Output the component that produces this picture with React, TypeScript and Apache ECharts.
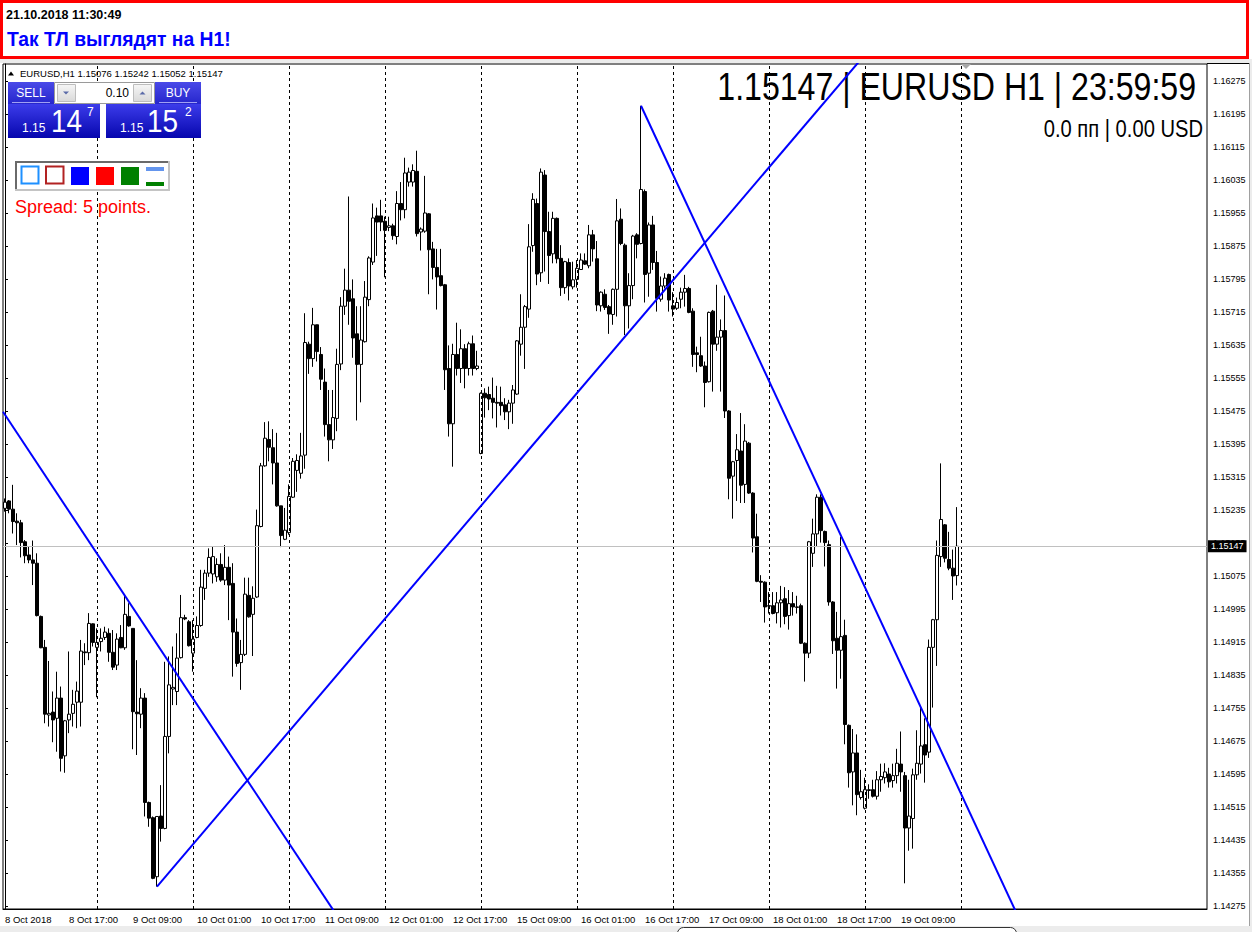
import React, { useEffect, useRef } from 'react';
import * as echarts from 'echarts';

const FONT = '"Liberation Sans", Arial, sans-serif';

// ---- texts ----
const symbolName = 'EURUSD,H1';
const headerTime = '21.10.2018 11:30:49';
const headerTitle = 'Так ТЛ выглядят на H1!';
const infoBig = '1.15147 | EURUSD H1 | 23:59:59';
const infoSmall = '0.0 пп | 0.00 USD';
const spreadText = 'Spread: 5 points.';
const lotText = '0.10';
const sellQuote = ['1.15', '14', '7'];
const buyQuote = ['1.15', '15', '2'];

// ---- time axis ----
const dayNames = ['8 Oct', '9 Oct', '10 Oct', '11 Oct', '12 Oct', '15 Oct', '16 Oct', '17 Oct', '18 Oct', '19 Oct'];
const firstLabel = '8 Oct 2018';
const firstDayStartHour = 1;
const labelStep = 16;
const emptySlots = 62;

// ---- price axis ----
const yMin = 1.142677;
const yMax = 1.163162;
const yTicks = [
  1.14275, 1.14355, 1.14435, 1.14515, 1.14595, 1.14675, 1.14755, 1.14835, 1.14915, 1.14995,
  1.15075, 1.15155, 1.15235, 1.15315, 1.15395, 1.15475, 1.15555, 1.15635, 1.15715, 1.15795,
  1.15875, 1.15955, 1.16035, 1.16115, 1.16195, 1.16275,
];

// ---- H1 candles per day: [open, high, low, close] ----
const oct08 = [
  [1.15239, 1.15263, 1.15231, 1.15254], [1.15257, 1.15259, 1.15227, 1.15237], [1.15237, 1.15296, 1.15178, 1.15207],
  [1.15208, 1.15227, 1.1515, 1.15204], [1.15204, 1.15211, 1.1512, 1.15156], [1.15158, 1.15162, 1.15106, 1.15124],
  [1.15126, 1.15146, 1.15106, 1.15114], [1.15114, 1.15161, 1.15053, 1.15106], [1.15106, 1.1513, 1.14977, 1.14979],
  [1.14977, 1.14979, 1.149, 1.14901], [1.14902, 1.1492, 1.14718, 1.1474], [1.14738, 1.14869, 1.1471, 1.14742],
  [1.14745, 1.14795, 1.14672, 1.14726], [1.1473, 1.14843, 1.14649, 1.14779], [1.14779, 1.14807, 1.14601, 1.14633],
  [1.14639, 1.14726, 1.14598, 1.14724], [1.14726, 1.14892, 1.14694, 1.1474], [1.14742, 1.14799, 1.1471, 1.14764],
  [1.14769, 1.14819, 1.14706, 1.14796], [1.14769, 1.1492, 1.1471, 1.14893], [1.14891, 1.14912, 1.14859, 1.14889],
  [1.14889, 1.14985, 1.14871, 1.1496], [1.14959, 1.1496, 1.14904, 1.14914],
];
const oct09 = [
  [1.14902, 1.14948, 1.14781, 1.14914], [1.14916, 1.14948, 1.14892, 1.14924], [1.14926, 1.14952, 1.1492, 1.14939],
  [1.14936, 1.14948, 1.14867, 1.1489], [1.1489, 1.14944, 1.14847, 1.14854], [1.14859, 1.14936, 1.14847, 1.14922],
  [1.14926, 1.14956, 1.149, 1.14901], [1.14901, 1.15029, 1.14896, 1.14982], [1.14977, 1.15009, 1.14952, 1.14954],
  [1.14948, 1.14948, 1.14655, 1.14746], [1.14745, 1.14871, 1.14641, 1.14741], [1.1474, 1.14803, 1.14706, 1.14779],
  [1.14779, 1.14791, 1.14492, 1.14526], [1.14526, 1.14528, 1.14467, 1.14488], [1.14489, 1.14492, 1.1434, 1.14342],
  [1.14346, 1.14492, 1.14322, 1.14492], [1.14493, 1.14568, 1.14431, 1.14463], [1.14463, 1.14867, 1.14461, 1.14686],
  [1.14686, 1.1488, 1.14645, 1.14811], [1.14801, 1.14904, 1.14762, 1.14805], [1.14795, 1.14936, 1.14762, 1.14876],
  [1.14877, 1.15029, 1.14875, 1.14974], [1.14974, 1.14981, 1.14968, 1.14971], [1.14964, 1.14968, 1.14904, 1.14906],
];
const oct10 = [
  [1.14888, 1.14968, 1.14843, 1.14922], [1.14926, 1.14977, 1.14924, 1.14955], [1.14955, 1.1509, 1.14952, 1.15048],
  [1.15045, 1.1509, 1.15017, 1.15082], [1.15082, 1.15142, 1.15073, 1.1512], [1.1508, 1.15146, 1.15057, 1.15122],
  [1.15073, 1.15118, 1.15061, 1.15103], [1.15103, 1.1513, 1.15061, 1.15065], [1.15065, 1.1515, 1.15053, 1.15096],
  [1.15096, 1.15122, 1.14968, 1.15053], [1.15057, 1.15106, 1.14831, 1.14939], [1.14939, 1.14972, 1.14855, 1.14863],
  [1.14865, 1.1492, 1.14799, 1.14885], [1.14885, 1.15071, 1.14881, 1.15031], [1.15028, 1.15071, 1.14974, 1.14976],
  [1.14982, 1.1505, 1.14881, 1.15021], [1.15024, 1.15236, 1.15022, 1.15197], [1.15195, 1.15349, 1.15193, 1.15342],
  [1.15342, 1.15448, 1.1534, 1.15409], [1.15406, 1.1545, 1.15353, 1.15387], [1.15386, 1.15431, 1.15297, 1.15349],
  [1.15349, 1.15422, 1.15243, 1.15245], [1.15245, 1.15245, 1.15145, 1.15173], [1.15164, 1.1524, 1.15162, 1.15186],
];
const oct11 = [
  [1.1518, 1.15297, 1.15175, 1.15268], [1.15266, 1.15361, 1.15264, 1.15353], [1.15331, 1.1537, 1.15279, 1.15355],
  [1.15324, 1.15422, 1.15311, 1.15366], [1.15368, 1.15712, 1.15335, 1.15641], [1.15637, 1.15643, 1.15565, 1.15602],
  [1.15602, 1.15725, 1.15582, 1.15684], [1.15684, 1.15684, 1.15595, 1.15619], [1.15612, 1.1563, 1.15526, 1.15552],
  [1.15545, 1.15578, 1.15413, 1.15442], [1.15442, 1.15526, 1.15353, 1.15405], [1.15405, 1.15526, 1.15383, 1.15459],
  [1.15457, 1.15626, 1.15426, 1.15588], [1.15589, 1.15751, 1.15574, 1.15729], [1.15729, 1.1582, 1.15708, 1.15768],
  [1.15768, 1.15995, 1.15684, 1.15741], [1.15747, 1.15794, 1.15604, 1.15652], [1.15662, 1.15729, 1.15452, 1.15588],
  [1.15588, 1.15729, 1.15496, 1.15647], [1.15643, 1.1579, 1.15641, 1.15751], [1.15745, 1.1585, 1.15729, 1.15846],
  [1.15836, 1.15978, 1.15829, 1.15943], [1.15948, 1.15968, 1.15851, 1.15933], [1.15948, 1.15987, 1.15911, 1.15933],
];
const oct12 = [
  [1.15935, 1.15946, 1.15799, 1.15913], [1.1592, 1.15946, 1.15911, 1.15924], [1.15924, 1.15929, 1.1589, 1.159],
  [1.15898, 1.16008, 1.15879, 1.15978], [1.15978, 1.1603, 1.15937, 1.15963], [1.15963, 1.16089, 1.15942, 1.16052],
  [1.1603, 1.16065, 1.16019, 1.16054], [1.1603, 1.16073, 1.16019, 1.16058], [1.16056, 1.16106, 1.15898, 1.15905],
  [1.15909, 1.1592, 1.15864, 1.15916], [1.15911, 1.16045, 1.15907, 1.15955], [1.15953, 1.15955, 1.15758, 1.15866],
  [1.15868, 1.15885, 1.15794, 1.15823], [1.15823, 1.15868, 1.15721, 1.158], [1.15803, 1.15868, 1.15777, 1.15779],
  [1.15781, 1.15783, 1.15526, 1.15575], [1.15578, 1.15634, 1.15413, 1.15444], [1.15444, 1.15638, 1.1534, 1.15612],
  [1.15612, 1.15689, 1.15561, 1.15578], [1.15578, 1.15673, 1.15543, 1.15626], [1.15626, 1.15637, 1.1553, 1.15578],
  [1.15578, 1.15643, 1.15561, 1.15638], [1.15638, 1.15658, 1.15561, 1.15578], [1.15578, 1.15621, 1.15574, 1.15584],
];
const oct15 = [
  [1.15372, 1.1552, 1.1537, 1.15518], [1.15518, 1.1553, 1.15459, 1.15507], [1.15515, 1.15534, 1.15477, 1.15504],
  [1.15506, 1.15556, 1.15457, 1.15496], [1.15496, 1.15536, 1.15435, 1.15494], [1.15496, 1.15534, 1.15464, 1.15488],
  [1.1549, 1.15506, 1.15453, 1.15473], [1.15473, 1.15502, 1.15431, 1.15494], [1.15494, 1.15538, 1.15444, 1.15526],
  [1.15516, 1.15647, 1.15514, 1.15645], [1.15637, 1.15758, 1.15609, 1.15678], [1.15678, 1.15732, 1.15577, 1.15728],
  [1.15722, 1.15928, 1.15701, 1.15873], [1.15876, 1.16003, 1.15861, 1.15988], [1.15978, 1.1599, 1.1578, 1.15807],
  [1.1581, 1.16063, 1.15788, 1.16054], [1.16047, 1.16059, 1.15813, 1.1591], [1.1591, 1.15958, 1.15783, 1.15852],
  [1.15856, 1.15958, 1.15833, 1.15942], [1.15942, 1.15944, 1.15833, 1.15844], [1.15845, 1.15877, 1.15754, 1.15774],
  [1.15774, 1.15839, 1.15759, 1.15837], [1.15835, 1.15845, 1.15743, 1.15778], [1.15776, 1.15837, 1.1577, 1.15793],
];
const oct16 = [
  [1.15794, 1.15841, 1.15774, 1.15821], [1.15818, 1.15857, 1.15817, 1.15841], [1.15839, 1.15857, 1.15829, 1.15831],
  [1.15827, 1.15926, 1.15821, 1.15902], [1.15902, 1.15914, 1.15837, 1.15868], [1.15844, 1.15887, 1.15717, 1.15732],
  [1.1573, 1.15765, 1.15716, 1.15763], [1.15758, 1.1577, 1.1572, 1.15726], [1.15728, 1.15732, 1.15662, 1.1571],
  [1.15709, 1.15772, 1.15684, 1.1577], [1.1577, 1.15989, 1.15704, 1.15936], [1.1594, 1.15966, 1.15877, 1.15881],
  [1.15877, 1.15881, 1.15659, 1.1573], [1.1573, 1.15809, 1.15675, 1.15779], [1.15779, 1.15902, 1.15746, 1.15899],
  [1.15902, 1.15906, 1.15845, 1.15879], [1.15881, 1.16215, 1.15879, 1.16012], [1.16007, 1.16012, 1.15738, 1.15806],
  [1.15809, 1.15932, 1.15752, 1.15926], [1.15926, 1.15948, 1.15817, 1.15835], [1.15835, 1.15863, 1.15716, 1.15748],
  [1.15746, 1.15801, 1.1574, 1.15778], [1.15778, 1.15809, 1.15772, 1.15797], [1.15806, 1.15808, 1.15716, 1.15744],
];
const oct17 = [
  [1.1573, 1.15763, 1.15704, 1.15722], [1.15724, 1.1575, 1.1572, 1.15738], [1.15746, 1.15774, 1.15724, 1.15763],
  [1.15763, 1.15805, 1.15728, 1.15772], [1.15772, 1.15776, 1.15712, 1.15714], [1.15717, 1.15724, 1.15582, 1.15612],
  [1.15616, 1.15631, 1.15569, 1.15612], [1.15609, 1.15655, 1.15582, 1.15584], [1.15584, 1.15595, 1.15484, 1.15544],
  [1.15546, 1.15716, 1.15544, 1.15714], [1.15717, 1.1572, 1.15522, 1.15637], [1.15637, 1.15781, 1.15621, 1.15654],
  [1.15654, 1.15697, 1.15522, 1.1567], [1.1567, 1.15755, 1.15458, 1.15475], [1.15475, 1.15477, 1.15261, 1.15312],
  [1.15317, 1.15354, 1.15214, 1.15352], [1.15355, 1.15419, 1.15257, 1.15381], [1.15378, 1.1547, 1.15252, 1.15295],
  [1.15297, 1.15443, 1.15252, 1.15402], [1.15397, 1.154, 1.15274, 1.15276], [1.15276, 1.15278, 1.15132, 1.15167],
  [1.1517, 1.15226, 1.1506, 1.15062], [1.15062, 1.15077, 1.15012, 1.1506], [1.1506, 1.15062, 1.14962, 1.15],
];
const oct18 = [
  [1.15003, 1.15036, 1.14984, 1.15002], [1.15003, 1.15036, 1.14982, 1.14984], [1.14986, 1.15036, 1.1496, 1.1501],
  [1.1501, 1.15051, 1.1495, 1.15017], [1.1502, 1.15048, 1.14958, 1.14977], [1.14979, 1.15041, 1.14945, 1.15008],
  [1.15008, 1.15036, 1.14979, 1.15], [1.15, 1.15027, 1.14984, 1.14999], [1.15003, 1.15008, 1.1491, 1.14912],
  [1.14912, 1.14914, 1.14819, 1.14888], [1.14888, 1.1516, 1.14876, 1.15158], [1.1513, 1.15214, 1.15097, 1.15177],
  [1.15177, 1.15273, 1.15146, 1.15266], [1.15266, 1.15273, 1.15156, 1.15185], [1.15183, 1.15185, 1.15098, 1.15156],
  [1.15151, 1.15161, 1.15003, 1.15012], [1.15012, 1.15014, 1.14886, 1.14918], [1.14924, 1.14988, 1.14802, 1.14895],
  [1.14895, 1.1517, 1.14826, 1.14928], [1.14931, 1.14969, 1.14667, 1.14715], [1.14713, 1.14715, 1.14562, 1.14598],
  [1.146, 1.14704, 1.14519, 1.14646], [1.14646, 1.14691, 1.14495, 1.14545], [1.14538, 1.14605, 1.14533, 1.14552],
];
const oct19 = [
  [1.14512, 1.14586, 1.14509, 1.14557], [1.14555, 1.1457, 1.14535, 1.14557], [1.14557, 1.14581, 1.14538, 1.14541],
  [1.14541, 1.14602, 1.14533, 1.14581], [1.14581, 1.1462, 1.14552, 1.14589], [1.14586, 1.14621, 1.14572, 1.146],
  [1.14595, 1.1461, 1.14562, 1.14576], [1.14579, 1.1462, 1.14562, 1.14591], [1.14591, 1.14656, 1.14572, 1.14621],
  [1.14619, 1.14698, 1.14552, 1.146], [1.14591, 1.146, 1.1433, 1.14464], [1.14464, 1.14581, 1.14409, 1.14493],
  [1.14487, 1.14608, 1.14414, 1.14593], [1.14593, 1.14701, 1.14581, 1.14621], [1.14619, 1.14758, 1.14596, 1.14663],
  [1.14666, 1.1473, 1.14574, 1.14641], [1.14648, 1.14921, 1.14634, 1.14902], [1.14902, 1.14971, 1.14756, 1.14969],
  [1.14969, 1.15161, 1.14857, 1.15125], [1.15122, 1.15348, 1.15097, 1.15212], [1.15199, 1.15201, 1.15108, 1.15118],
  [1.15115, 1.15182, 1.15089, 1.15094], [1.15094, 1.15139, 1.15017, 1.15075], [1.15076, 1.15242, 1.15052, 1.15147],
];

// ---- trend lines: [bar index, price] anchors (rays, clipped to the plot) ----
const trendLineA = [[-0.5, 1.15473], [90, 1.14149]];
const trendLineB = [[38, 1.14322], [220, 1.16396]];
const trendLineC = [[159, 1.16215], [265, 1.14005]];

// ---- derived ----
const dayBars = [oct08, oct09, oct10, oct11, oct12, oct15, oct16, oct17, oct18, oct19];
const bars = dayBars.flat();
const times: string[] = [];
dayNames.forEach((d, i) => {
  const start = i === 0 ? firstDayStartHour : 0;
  for (let h = start; h < 24; h++) times.push(`${d} ${String(h).padStart(2, '0')}:00`);
});
const categories = [...times, ...Array(emptySlots).fill('')];
const candleData = bars.map(([o, h, l, c]) => [o, c, l, h]);
const separators = times
  .map((t, i) => (t.endsWith(' 00:00') ? i : -1))
  .filter((i) => i >= 0)
  .concat([times.length]);
const lastBar = bars[bars.length - 1];
const lastClose = lastBar[3];
const ohlcLine = `${symbolName} ${lastBar.map((v) => v.toFixed(5)).join(' ')}`;

function txt(x: number, y: number, text: string, size: number, color: string, o: any = {}) {
  const align = o.align || 'left';
  return {
    type: 'text',
    x,
    y,
    z: o.z ?? 60,
    silent: true,
    scaleX: o.scaleX ?? 1,
    style: {
      text,
      fill: color,
      font: `${o.weight || 'normal'} ${size}px ${FONT}`,
      textAlign: align,
      textVerticalAlign: 'middle',
      align,
      verticalAlign: 'middle',
    },
  };
}
function rect(x: number, y: number, w: number, h: number, style: any, z = 50, r = 0) {
  return { type: 'rect', z, silent: true, shape: { x, y, width: w, height: h, r }, style };
}
function line(x1: number, y1: number, x2: number, y2: number, stroke: string, lw = 1, z = 50) {
  return { type: 'line', z, silent: true, shape: { x1, y1, x2, y2 }, style: { stroke, lineWidth: lw } };
}

function buildOption() {
  const grad = (a: string, b: string) =>
    new echarts.graphic.LinearGradient(0, 0, 0, 1, [
      { offset: 0, color: a },
      { offset: 1, color: b },
    ]);
  const tabFill = grad('#4a4ae8', '#2626cc');
  const lowFill = grad('#3c3cea', '#0606ae');
  const btnFill = grad('#f6f6f6', '#d9d9d9');

  const graphic: any[] = [
    // header
    rect(0, 0, 1252, 60, { fill: '#fff' }, 40),
    rect(1.5, 1.5, 1246, 56, { fill: 'none', stroke: '#ff0000', lineWidth: 3 }, 41),
    txt(6, 15, headerTime, 12.5, '#000', { weight: 'bold' }),
    txt(7, 39, headerTitle, 19.3, '#0000ff', { weight: 'bold' }),
    rect(0, 59, 1252, 4, { fill: '#ececec' }, 40),
    line(1207, 63.5, 1249, 63.5, '#000', 1, 40),
    rect(1249, 59, 3, 873, { fill: '#ececec' }, 40),
    line(1249.5, 63, 1249.5, 926, '#a0a0a0', 1, 40),
    rect(0, 926, 1252, 6, { fill: '#ececec' }, 40),
    rect(677.5, 927.5, 339, 20, { fill: '#fff', stroke: '#333', lineWidth: 1 }, 41, 6),
    // chart-shift marker
    { type: 'polygon', z: 40, silent: true, shape: { points: [[961, 64], [971, 64], [966, 69]] }, style: { fill: '#a8a8a8' } },
    // OHLC line
    { type: 'polygon', z: 60, silent: true, shape: { points: [[8, 75.5], [14, 75.5], [11, 71.5]] }, style: { fill: '#000' } },
    txt(20, 73, ohlcLine, 9.5, '#000'),
    // big info (below series)
    txt(1196, 86, infoBig, 38, '#000', { align: 'right', scaleX: 0.845, z: 1 }),
    txt(1203, 129, infoSmall, 24, '#000', { align: 'right', scaleX: 0.84, z: 1 }),
    // SELL
    rect(8, 82, 46, 22, { fill: tabFill }),
    line(12, 102.5, 50, 102.5, '#a0a0f4', 1, 51),
    txt(31, 93, 'SELL', 12, '#fff', { align: 'center' }),
    rect(8, 104, 92, 34, { fill: lowFill }),
    txt(22, 128, sellQuote[0], 12, '#fff'),
    txt(51, 121, sellQuote[1], 31, '#fff', { scaleX: 0.9 }),
    txt(87, 112, sellQuote[2], 12, '#fff'),
    // BUY
    rect(155, 82, 46, 22, { fill: tabFill }),
    line(159, 102.5, 197, 102.5, '#a0a0f4', 1, 51),
    txt(178, 93, 'BUY', 12, '#fff', { align: 'center' }),
    rect(106, 104, 95, 34, { fill: lowFill }),
    txt(120, 128, buyQuote[0], 12, '#fff'),
    txt(147, 121, buyQuote[1], 31, '#fff', { scaleX: 0.9 }),
    txt(185, 112, buyQuote[2], 12, '#fff'),
    // lot box
    rect(54.5, 82.5, 100, 21, { fill: '#fff', stroke: '#9a9a9a', lineWidth: 1 }),
    rect(57.5, 84.5, 18, 17, { fill: btnFill, stroke: '#bdbdbd', lineWidth: 1 }, 51),
    { type: 'polygon', z: 52, silent: true, shape: { points: [[63, 91.5], [69, 91.5], [66, 94.5]] }, style: { fill: '#5a6aa8' } },
    rect(133.5, 84.5, 18, 17, { fill: btnFill, stroke: '#bdbdbd', lineWidth: 1 }, 51),
    { type: 'polygon', z: 52, silent: true, shape: { points: [[139.5, 94.5], [145.5, 94.5], [142.5, 91.5]] }, style: { fill: '#5a6aa8' } },
    txt(129, 93, lotText, 12, '#000', { align: 'right' }),
    // palette
    rect(15, 161, 155, 30, { fill: '#fff' }),
    line(15, 162, 170, 162, '#6a6a6a', 2, 51),
    line(16, 161, 16, 191, '#6a6a6a', 2, 51),
    line(15, 190, 170, 190, '#c4c4c4', 2, 51),
    line(169, 161, 169, 191, '#c4c4c4', 2, 51),
    rect(21.5, 166.5, 17, 17, { fill: '#fff', stroke: '#1e90ff', lineWidth: 2 }, 52),
    rect(46, 166.5, 17.5, 17, { fill: '#fff', stroke: '#b22222', lineWidth: 2 }, 52),
    rect(71, 167, 18, 18, { fill: '#0000ff' }, 52),
    rect(96, 167, 18, 18, { fill: '#ff0000' }, 52),
    rect(121, 167, 18, 18, { fill: '#008000' }, 52),
    rect(146, 167, 18, 4, { fill: '#6495ed' }, 52),
    rect(146, 182, 18, 4, { fill: '#008000' }, 52),
    txt(15, 207, spreadText, 18, '#ff0000', { z: 1 }),
  ];

  const trendSeries = [trendLineA, trendLineB, trendLineC].map((d, i) => ({
    type: 'line',
    name: `TL${i + 1}`,
    xAxisIndex: 1,
    yAxisIndex: 0,
    data: d,
    showSymbol: false,
    symbol: 'none',
    clip: true,
    silent: true,
    z: 5,
    lineStyle: { color: '#0000ff', width: 2 },
  }));

  return {
    animation: false,
    backgroundColor: '#fff',
    grid: {
      left: 3,
      right: 45,
      top: 64,
      bottom: 23,
      show: true,
      borderColor: '#000',
      borderWidth: 1,
      containLabel: false,
      outerBoundsMode: 'none',
    },
    xAxis: [
      {
        type: 'category',
        data: categories,
        boundaryGap: true,
        axisLine: { show: true, lineStyle: { color: '#000', width: 1 } },
        axisTick: { show: false },
        splitLine: { show: false },
        axisLabel: {
          interval: (i: number) => i % labelStep === 0 && i < times.length,
          formatter: (v: string, i: number) => (i === 0 ? firstLabel : v),
          align: 'left',
          margin: 5,
          fontSize: 9.5,
          color: '#000',
          fontFamily: FONT,
        },
      },
      { type: 'value', min: -0.5, max: categories.length - 0.5, show: false },
    ],
    yAxis: {
      type: 'value',
      position: 'right',
      min: yMin,
      max: yMax,
      splitLine: { show: false },
      axisLine: { show: true, lineStyle: { color: '#000', width: 1 } },
      axisTick: { show: true, customValues: yTicks, length: 3, lineStyle: { color: '#000' } },
      axisLabel: {
        customValues: yTicks,
        formatter: (v: number) => v.toFixed(5),
        fontSize: 9,
        color: '#000',
        margin: 6,
        fontFamily: FONT,
      },
    },
    graphic,
    series: [
      {
        type: 'line',
        name: 'separators',
        xAxisIndex: 1,
        yAxisIndex: 0,
        data: [],
        silent: true,
        z: 1,
        markLine: {
          silent: true,
          animation: false,
          precision: 3,
          symbol: ['none', 'none'],
          label: { show: false },
          lineStyle: { color: '#000', type: [3, 3], width: 1 },
          data: separators.map((v) => ({ xAxis: v })),
        },
      },
      {
        type: 'candlestick',
        name: 'EURUSD',
        xAxisIndex: 0,
        yAxisIndex: 0,
        data: candleData,
        barWidth: 3,
        z: 3,
        itemStyle: { color: '#fff', color0: '#000', borderColor: '#000', borderColor0: '#000', borderWidth: 1 },
        markLine: {
          silent: true,
          animation: false,
          precision: 5,
          symbol: ['none', 'none'],
          lineStyle: { color: '#c0c0c0', type: 'solid', width: 1 },
          label: {
            show: true,
            position: 'end',
            formatter: () => lastClose.toFixed(5),
            color: '#fff',
            backgroundColor: '#000',
            padding: [2, 3, 1, 3],
            fontSize: 9,
            fontFamily: FONT,
            distance: 1,
          },
          data: [{ yAxis: lastClose }],
        },
      },
      ...trendSeries,
    ],
  };
}

export default function App() {
  const ref = useRef<HTMLDivElement>(null);
  useEffect(() => {
    if (!ref.current) return;
    const chart = echarts.init(ref.current, undefined, { renderer: 'svg', width: 1252, height: 932 });
    chart.setOption(buildOption() as any);
    return () => chart.dispose();
  }, []);
  return (
    <div
      ref={ref}
      style={{ position: 'fixed', left: 0, top: 0, width: 1252, height: 932, background: '#fff' }}
    />
  );
}
